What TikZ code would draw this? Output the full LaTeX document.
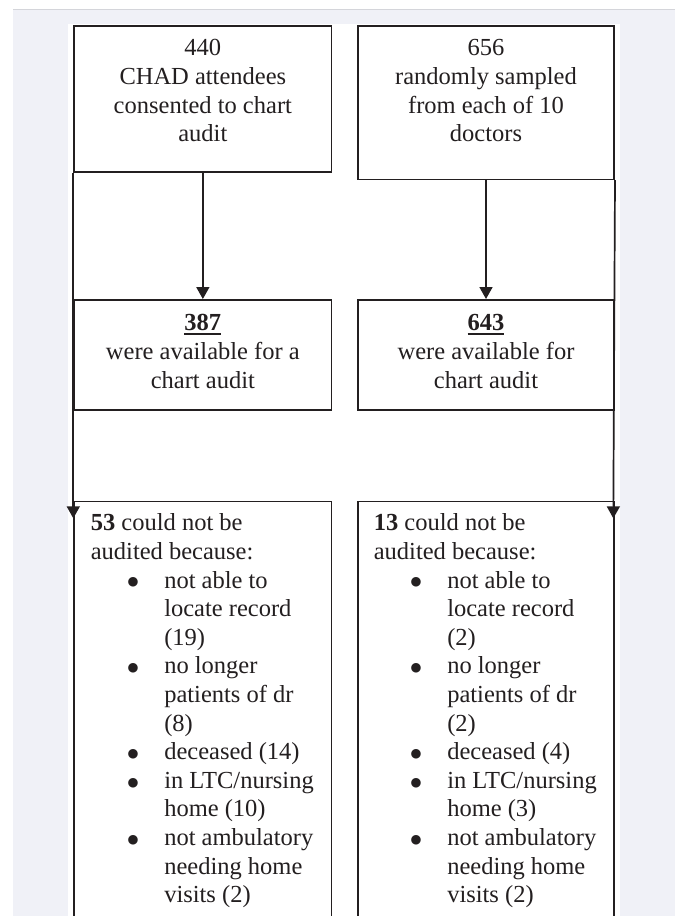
\documentclass[tikz,border=0pt]{standalone}
\usepackage{fontspec}
\setmainfont{Liberation Serif}
\newfontfamily\dotfont{DejaVu Sans}
\usetikzlibrary{arrows.meta}
\definecolor{ink}{HTML}{231F20}
\definecolor{pagegray}{HTML}{F0F1F7}
\definecolor{edgegray}{HTML}{D4D5DA}
\newsavebox\ulbox
\newcommand\uln[1]{\sbox\ulbox{#1}\rlap{\rule[-4pt]{\wd\ulbox}{2.2pt}}\usebox\ulbox}
\newcommand\bodyfont{\fontsize{24.5pt}{28.6pt}\selectfont}
% continuation line of a bullet item
\newcommand\cnt[1]{\hspace*{73.4pt}#1}
% first line of a bullet item
\newcommand\itm[1]{\hspace*{42.3pt}\makebox[0pt]{\raisebox{2.2pt}{\dotfont\fontsize{12.5pt}{12.5pt}\selectfont ●}}\hspace*{31.1pt}#1}
\tikzset{
  flowbox/.style={draw=ink, line width=1.7pt, inner sep=0pt, anchor=north west, text=ink},
  link/.style={draw=ink, line width=1.7pt, -{Triangle[length=12pt,width=13pt]}},
}
\begin{document}
\begin{tikzpicture}[x=1pt,y=-1pt]
\useasboundingbox (0,0) rectangle (677,916);
\clip (0,0) rectangle (677,916);
% page background
\fill[pagegray] (13,9.3) rectangle (675,916);
\draw[edgegray, line width=1pt] (13,9.3) -- (675,9.3);
\fill[white] (68,24) rectangle (620,916);

% top boxes
\node[flowbox, minimum width=257.4pt, minimum height=146pt] (A) at (73.3,25)
  {\parbox[c][146pt][t]{257.4pt}{\centering\bodyfont\vspace*{10pt}\strut 440\\CHAD attendees\\consented to chart\\audit}};
\node[flowbox, minimum width=256.3pt, minimum height=153.5pt] (B) at (357,25)
  {\parbox[c][153.5pt][t]{256.3pt}{\centering\bodyfont\vspace*{10pt}\strut 656\\randomly sampled\\from each of 10\\doctors}};

% middle boxes
\node[flowbox, minimum width=257.4pt, minimum height=110.3pt] (C) at (73.3,299)
  {\parbox[c][110.3pt][t]{257.4pt}{\centering\bodyfont\vspace*{11pt}\strut\uln{\textbf{387}}\\were available for a\\chart audit}};
\node[flowbox, minimum width=256.3pt, minimum height=110.3pt] (D) at (357,299)
  {\parbox[c][110.3pt][t]{256.3pt}{\centering\bodyfont\vspace*{11pt}\strut\uln{\textbf{643}}\\were available for\\chart audit}};

% bottom boxes (cut off by the page edge)
\node[flowbox, minimum width=257.4pt, minimum height=440pt] (E) at (73.3,500.7)
  {\parbox[c][440pt][t]{257.4pt}{\raggedright\leftskip=16.7pt\bodyfont\vspace*{9.3pt}\strut
   \textbf{53} could not be\\
   audited because:\\
   \itm{not able to}\\
   \cnt{locate record}\\
   \cnt{(19)}\\
   \itm{no longer}\\
   \cnt{patients of dr}\\
   \cnt{(8)}\\
   \itm{deceased (14)}\\
   \itm{in LTC/nursing}\\
   \cnt{home (10)}\\
   \itm{not ambulatory}\\
   \cnt{needing home}\\
   \cnt{visits (2)}}};
\node[flowbox, minimum width=256.3pt, minimum height=440pt] (F) at (357,500.7)
  {\parbox[c][440pt][t]{256.3pt}{\raggedright\leftskip=16pt\bodyfont\vspace*{9.3pt}\strut
   \textbf{13} could not be\\
   audited because:\\
   \itm{not able to}\\
   \cnt{locate record}\\
   \cnt{(2)}\\
   \itm{no longer}\\
   \cnt{patients of dr}\\
   \cnt{(2)}\\
   \itm{deceased (4)}\\
   \itm{in LTC/nursing}\\
   \cnt{home (3)}\\
   \itm{not ambulatory}\\
   \cnt{needing home}\\
   \cnt{visits (2)}}};

% connectors
\coordinate (lend) at (73.3,518.3);
\coordinate (rend) at (613.3,518.3);
\draw[link] (A.south) -- (C.north);
\draw[link] (B.south) -- (D.north);
\draw[link] (A.south west) -- (lend);
\draw[link] (B.south east) -- (rend);
\end{tikzpicture}
\end{document}
